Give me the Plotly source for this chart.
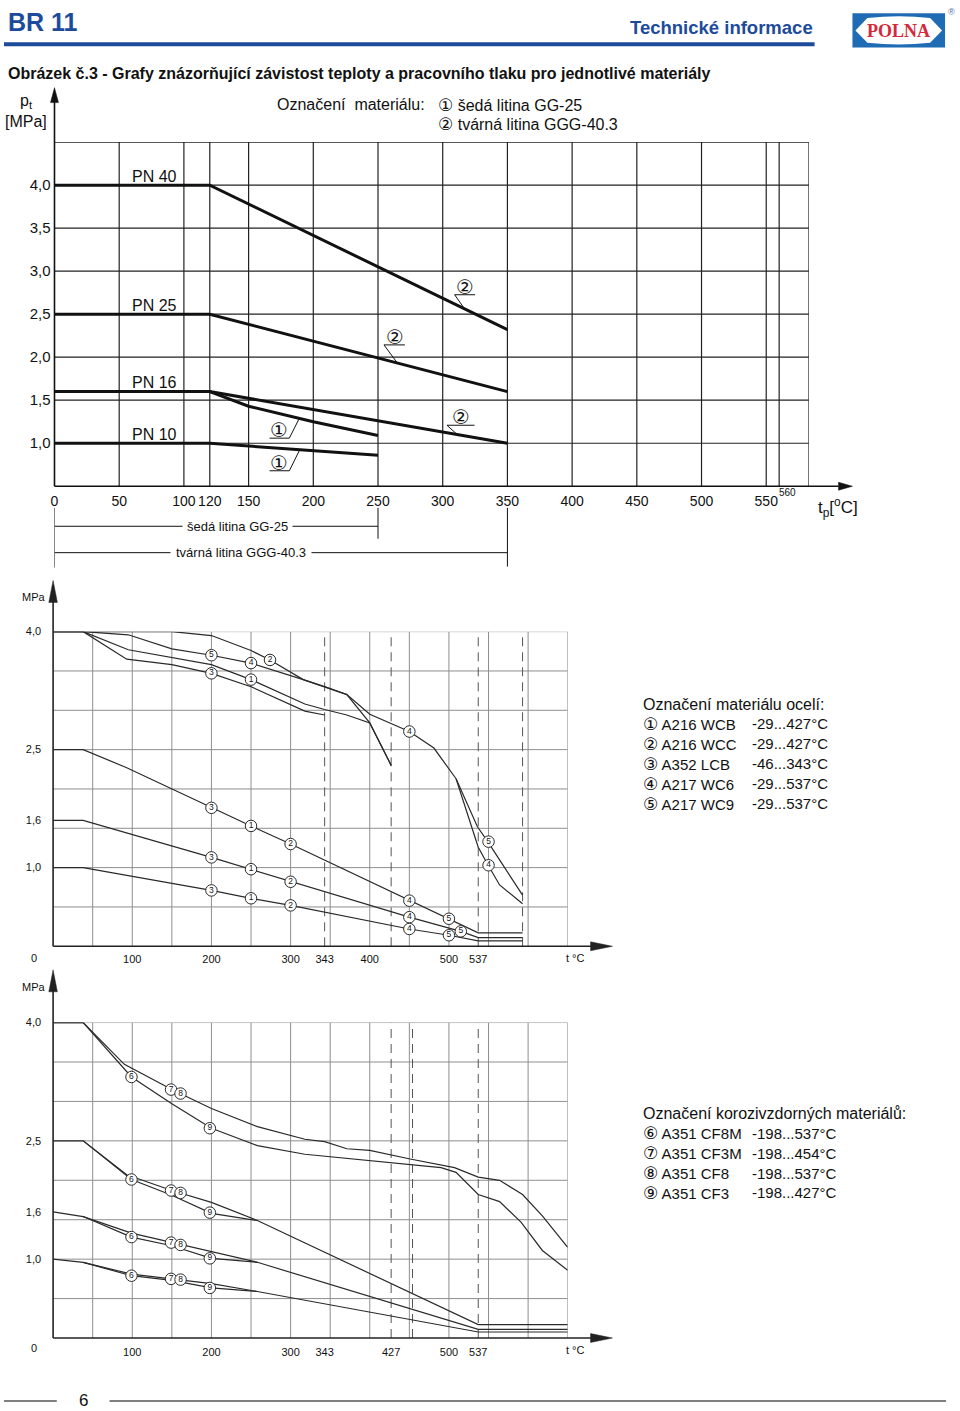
import plotly.graph_objects as go

W, H = 960, 1411
def px(x): return x / W
def py(y): return 1 - y / H

BLUE = "#1d4b9b"
INK = "#111111"
CURVE = "#2a2a2a"
GRID2 = "#8e8e8e"
FONT = "Liberation Sans, Arial, sans-serif"
CIRC = "DejaVu Sans"

def circ(s, size):
    return f'<span style="font-family:{CIRC};font-size:{size}px">{s}</span>'

# ---------------- chart 1 data (cast iron) ----------------
c1_ticks_x = [0, 50, 100, 120, 150, 200, 250, 300, 350, 400, 450, 500, 550]
c1_grid_x = [50, 100, 120, 150, 200, 250, 300, 350, 400, 450, 500, 550, 560, 583]
c1_ticks_y = [1.0, 1.5, 2.0, 2.5, 3.0, 3.5, 4.0]
c1_ticktext_y = ["1,0", "1,5", "2,0", "2,5", "3,0", "3,5", "4,0"]
c1_grid_y = [1.0, 1.5, 2.0, 2.5, 3.0, 3.5, 4.0, 4.5]

pn40_t = [0, 120, 350];        pn40_p = [4.0, 4.0, 2.32]
pn25_t = [0, 120, 350];        pn25_p = [2.5, 2.5, 1.6]
pn16_ggg_t = [0, 120, 350];    pn16_ggg_p = [1.6, 1.6, 1.0]
pn16_gg_t = [120, 150, 200, 250]; pn16_gg_p = [1.6, 1.43, 1.25, 1.09]
pn10_t = [0, 120, 250];        pn10_p = [1.0, 1.0, 0.86]
pn_labels = ["PN 40", "PN 25", "PN 16", "PN 10"]

# ---------------- chart 2 data (steels) ----------------
c2_ticks_x = [100, 200, 300, 343, 400, 500, 537]
c2_ticks_y = [1.0, 1.6, 2.5, 4.0]
c2_ticktext_y = ["1,0", "1,6", "2,5", "4,0"]
grid_x_23 = [50, 100, 150, 200, 250, 300, 350, 400, 450, 500, 550, 600, 650]
grid_y_23 = [0.5, 1.0, 1.5, 2.0, 2.5, 3.0, 3.5, 4.0]
c2_dash_x = [343, 427, 537, 593]

c2_wcc_t = [0, 150, 200, 250, 274, 316, 343, 371, 400, 427]
c2_wcc_p = [4.0, 4.0, 3.95, 3.76, 3.64, 3.39, 3.30, 3.20, 2.84, 2.30]
c2_wcb_t = [0, 38, 95, 200, 250, 318, 343, 371, 400, 427]
c2_wcb_p = [4.0, 4.0, 3.77, 3.58, 3.39, 3.08, 3.01, 2.94, 2.84, 2.30]
c2_lcb_t = [0, 38, 93, 150, 200, 250, 318, 343]
c2_lcb_p = [4.0, 4.0, 3.65, 3.58, 3.47, 3.30, 2.99, 2.94]
c2_wc69_t = [0, 38, 95, 150, 200, 250, 316, 343, 371, 400, 450, 481, 509]
c2_wc69_p = [4.0, 4.0, 3.96, 3.78, 3.70, 3.60, 3.39, 3.30, 3.20, 2.95, 2.73, 2.52, 2.13]
c2_wc9_t = [509, 536, 549, 593];       c2_wc9_p = [2.13, 1.52, 1.33, 0.65]
c2_wc6_t = [509, 537, 549, 564, 593];  c2_wc6_p = [2.13, 1.26, 1.04, 0.78, 0.54]
c2_pn25_t = [0, 38, 93, 150, 200, 250, 300, 450, 500, 537, 593]
c2_pn25_p = [2.5, 2.5, 2.27, 2.0, 1.76, 1.53, 1.30, 0.58, 0.35, 0.17, 0.17]
c2_pn16_t = [0, 38, 200, 250, 300, 450, 515, 537, 593]
c2_pn16_p = [1.6, 1.6, 1.13, 0.98, 0.82, 0.37, 0.19, 0.11, 0.11]
c2_pn10_t = [0, 38, 200, 250, 300, 450, 500, 537, 593]
c2_pn10_p = [1.0, 1.0, 0.71, 0.61, 0.52, 0.22, 0.14, 0.07, 0.07]

c2_mk_t = [200, 250, 274, 200, 250, 450, 550, 550,
           200, 250, 300, 450, 500,
           200, 250, 300, 450, 515,
           200, 250, 300, 450, 500]
c2_mk_p = [3.70, 3.60, 3.64, 3.47, 3.39, 2.73, 1.33, 1.03,
           1.76, 1.53, 1.30, 0.58, 0.35,
           1.13, 0.98, 0.82, 0.37, 0.19,
           0.71, 0.61, 0.52, 0.22, 0.14]
c2_mk_lbl = ["5", "4", "2", "3", "1", "4", "5", "4",
             "3", "1", "2", "4", "5",
             "3", "1", "2", "4", "5",
             "3", "1", "2", "4", "5"]

c2_leg_title = "Označení materiálu ocelí:"
c2_leg_num = ["①", "②", "③", "④", "⑤"]
c2_leg_mat = ["A216 WCB", "A216 WCC", "A352 LCB", "A217 WC6", "A217 WC9"]
c2_leg_rng = ["-29...427°C", "-29...427°C", "-46...343°C", "-29...537°C", "-29...537°C"]

# ---------------- chart 3 data (stainless) ----------------
c3_ticks_x = [100, 200, 300, 343, 427, 500, 537]
c3_dash_x = [427, 454, 537]

c3_a_t = [0, 38, 90, 150, 200, 258, 318, 343, 371, 400, 451, 507, 537, 564, 593, 618, 650]
c3_a_p = [4.0, 4.0, 3.47, 3.15, 2.91, 2.68, 2.52, 2.49, 2.40, 2.38, 2.27, 2.16, 2.04, 2.0, 1.82, 1.55, 1.15]
c3_b_t = [0, 38, 99, 150, 200, 258, 318, 371, 451, 490, 509, 537, 564, 591, 618, 650]
c3_b_p = [4.0, 4.0, 3.31, 2.97, 2.66, 2.44, 2.33, 2.28, 2.20, 2.16, 2.10, 1.82, 1.73, 1.47, 1.11, 0.86]
c3_25a_t = [0, 38, 93, 150, 200, 258, 537, 650]; c3_25a_p = [2.5, 2.5, 2.07, 1.87, 1.72, 1.49, 0.17, 0.17]
c3_25b_t = [38, 99, 150, 200, 258];              c3_25b_p = [2.5, 2.01, 1.81, 1.58, 1.49]
c3_16a_t = [0, 38, 99, 150, 200, 258, 537, 650]; c3_16a_p = [1.6, 1.54, 1.33, 1.21, 1.09, 0.96, 0.11, 0.11]
c3_16b_t = [38, 99, 150, 200, 258];              c3_16b_p = [1.54, 1.28, 1.17, 1.01, 0.96]
c3_10a_t = [0, 38, 99, 150, 200, 258, 537, 650]; c3_10a_p = [1.0, 0.96, 0.81, 0.75, 0.69, 0.59, 0.076, 0.076]
c3_10b_t = [38, 99, 150, 200, 258];              c3_10b_p = [0.96, 0.79, 0.73, 0.635, 0.59]

c3_mk_t = [99, 149, 161, 198, 99, 149, 161, 198, 99, 149, 161, 198, 99, 149, 161, 198]
c3_mk_p = [3.31, 3.15, 3.10, 2.66, 2.01, 1.87, 1.84, 1.59, 1.28, 1.21, 1.18, 1.01, 0.79, 0.75, 0.74, 0.635]
c3_mk_lbl = ["6", "7", "8", "9"] * 4

c3_leg_title = "Označení korozivzdorných materiálů:"
c3_leg_num = ["⑥", "⑦", "⑧", "⑨"]
c3_leg_mat = ["A351 CF8M", "A351 CF3M", "A351 CF8", "A351 CF3"]
c3_leg_rng = ["-198...537°C", "-198...454°C", "-198...537°C", "-198...427°C"]

# ---------------- figure ----------------
fig = go.Figure()

def curve(t, p, axes, width, color):
    fig.add_trace(go.Scatter(x=t, y=p, xaxis=axes[0], yaxis=axes[1], mode="lines",
                             line=dict(color=color, width=width),
                             hoverinfo="skip", showlegend=False))

A1, A2, A3 = ("x", "y"), ("x2", "y2"), ("x3", "y3")

for t, p in [(pn40_t, pn40_p), (pn25_t, pn25_p), (pn16_ggg_t, pn16_ggg_p),
             (pn16_gg_t, pn16_gg_p), (pn10_t, pn10_p)]:
    curve(t, p, A1, 3, INK)

for t, p in [(c2_wcc_t, c2_wcc_p), (c2_wcb_t, c2_wcb_p), (c2_lcb_t, c2_lcb_p),
             (c2_wc69_t, c2_wc69_p), (c2_wc9_t, c2_wc9_p), (c2_wc6_t, c2_wc6_p),
             (c2_pn25_t, c2_pn25_p), (c2_pn16_t, c2_pn16_p), (c2_pn10_t, c2_pn10_p)]:
    curve(t, p, A2, 1.2, CURVE)

for t, p in [(c3_a_t, c3_a_p), (c3_b_t, c3_b_p), (c3_25a_t, c3_25a_p), (c3_25b_t, c3_25b_p),
             (c3_16a_t, c3_16a_p), (c3_16b_t, c3_16b_p), (c3_10a_t, c3_10a_p), (c3_10b_t, c3_10b_p)]:
    curve(t, p, A3, 1.2, CURVE)

def marks(t, p, lbl, axes):
    fig.add_trace(go.Scatter(x=t, y=p, xaxis=axes[0], yaxis=axes[1], mode="markers+text",
                             text=lbl, textposition="middle center",
                             textfont=dict(size=8.5, color=INK, family=FONT),
                             marker=dict(symbol="circle", size=11.5, color="white",
                                         line=dict(color=CURVE, width=1)),
                             cliponaxis=False, hoverinfo="skip", showlegend=False))

marks(c2_mk_t, c2_mk_p, c2_mk_lbl, A2)
marks(c3_mk_t, c3_mk_p, c3_mk_lbl, A3)

shapes = []
annotations = []

def pline(x0, y0, x1, y1, color=INK, width=1.5, dash="solid"):
    shapes.append(dict(type="line", xref="paper", yref="paper",
                       x0=px(x0), y0=py(y0), x1=px(x1), y1=py(y1),
                       line=dict(color=color, width=width, dash=dash)))

def dline(axes, x0, y0, x1, y1, color, width, dash="solid", layer="below"):
    shapes.append(dict(type="line", xref=axes[0], yref=axes[1],
                       x0=x0, y0=y0, x1=x1, y1=y1, layer=layer,
                       line=dict(color=color, width=width, dash=dash)))

def tri(pts, color=INK):
    d = "M " + " L ".join(f"{px(a):.5f},{py(b):.5f}" for a, b in pts) + " Z"
    shapes.append(dict(type="path", xref="paper", yref="paper", path=d,
                       fillcolor=color, line=dict(color=color, width=0.5)))

def txt(x, y, s, size, xanchor="left", color=INK, family=FONT, **kw):
    annotations.append(dict(xref="paper", yref="paper", x=px(x), y=py(y), text=s,
                            showarrow=False, xanchor=xanchor, yanchor="middle",
                            font=dict(size=size, color=color, family=family), **kw))

# ---------- header ----------
txt(2, 16, "<b>BR 11</b>", 25, color=BLUE)
txt(814, 22, "<b>Technické informace</b>", 18.5, xanchor="right", color=BLUE)
pline(0, 38.5, 814, 38.5, color=BLUE, width=4)
shapes.append(dict(type="rect", xref="paper", yref="paper", x0=px(852), x1=px(945),
                   y0=py(41.7), y1=py(7.3), fillcolor="#1f6cb4", line=dict(width=0)))
lens = (f"M {px(855):.5f},{py(24.5):.5f} L {px(867):.5f},{py(12):.5f} "
        f"Q {px(898.5):.5f},{py(8.5):.5f} {px(930):.5f},{py(12):.5f} "
        f"L {px(942):.5f},{py(24.5):.5f} L {px(930):.5f},{py(37):.5f} "
        f"Q {px(898.5):.5f},{py(40.5):.5f} {px(867):.5f},{py(37):.5f} Z")
shapes.append(dict(type="path", xref="paper", yref="paper", path=lens,
                   fillcolor="white", line=dict(width=0)))
txt(898.5, 25, "<b>POLNA</b>", 18, xanchor="center", color="#d42a3b",
    family="Liberation Serif, Times New Roman, serif")
txt(951, 6, "®", 9, xanchor="center", color="#4a6fa8")
txt(2, 68, "<b>Obrázek č.3 - Grafy znázorňující závistost teploty a pracovního tlaku pro jednotlivé materiály</b>", 16)

# ---------- chart 1 ----------
for g in c1_grid_x:
    dline(A1, g, 0.5, g, 4.5, "#222222", 1.2)
for g in c1_grid_y:
    dline(A1, 0, g, 583, g, "#222222", 1.2)
pline(50.7, 482.3, 50.7, 96, width=1.6)
tri([(50.7, 82), (46.7, 97), (54.7, 97)])
pline(50.7, 482.3, 838, 482.3, width=1.6)
tri([(852, 482.3), (838, 478.3), (838, 486.3)])

txt(14, 96, "p<sub>t</sub>", 16)
txt(22, 116, "[MPa]", 16, xanchor="center")
txt(272, 99, "Označení  materiálu:", 16)
txt(434, 99, circ("①", 17) + " šedá litina GG-25", 16)
txt(434, 119, circ("②", 17) + " tvárná litina GGG-40.3", 16)
for lbl, yy in zip(pn_labels, [171, 301, 378, 430]):
    txt(127, yy, lbl, 16)
txt(787, 489, "560", 10, xanchor="center")
txt(815, 504, "t<sub>p</sub>[<sup>o</sup>C]", 17)

# leader labels on chart 1 (label pos, underline, slant) in data units
leaders = [
    ("②", 317.0, 2.82, 309.2, 325.0, 2.726, (309.2, 2.726, 317.4, 2.552)),
    ("②", 262.8, 2.236, 254.6, 270.8, 2.143, (254.6, 2.143, 264.8, 1.935)),
    ("②", 314.3, 1.306, 303.3, 324.6, 1.209, (303.3, 1.209, 312.3, 1.086)),
    ("①", 173.8, 1.155, 166.2, 181.5, 1.059, (181.5, 1.059, 189.2, 1.290)),
    ("①", 173.8, 0.77, 166.2, 181.5, 0.680, (181.5, 0.680, 189.2, 0.915)),
]
for s, lt, lp, u0, u1, up, sl in leaders:
    annotations.append(dict(xref="x", yref="y", x=lt, y=lp, text=s, showarrow=False,
                            xanchor="center", yanchor="middle",
                            font=dict(size=20, color=INK, family=CIRC)))
    dline(A1, u0, up, u1, up, INK, 1, layer="above")
    dline(A1, sl[0], sl[1], sl[2], sl[3], INK, 1, layer="above")

# brackets below chart 1
for tv, y1b in [(0, 564), (250, 535), (350, 563)]:
    shapes.append(dict(type="line", xref="x", yref="paper", x0=tv, x1=tv,
                       y0=py(504), y1=py(y1b), line=dict(color=INK, width=1)))
shapes.append(dict(type="line", xref="x", yref="paper", x0=0, x1=250,
                   y0=py(522.5), y1=py(522.5), line=dict(color=INK, width=1)))
shapes.append(dict(type="line", xref="x", yref="paper", x0=0, x1=350,
                   y0=py(549), y1=py(549), line=dict(color=INK, width=1)))
txt(234, 522.5, "šedá litina GG-25", 13, xanchor="center", bgcolor="white", borderpad=4)
txt(238, 549, "tvárná litina GGG-40.3", 13, xanchor="center", bgcolor="white", borderpad=5)

# ---------- chart 2 & 3 grids / axes ----------
def small_chart(axes, dash_x, yax_px, arrow_top):
    for g in grid_x_23:
        dline(axes, g, 0, g, 4.0, GRID2, 1)
    for g in grid_y_23:
        dline(axes, 0, g, 650, g, GRID2, 1)
    for g in dash_x:
        dline(axes, g, 0, g, 4.0, "#555555", 1, dash="9px,6px")
    pline(49.3, yax_px, 49.3, arrow_top + 20, color="#222222", width=1.6)
    tri([(49.3, arrow_top), (45, arrow_top + 22), (53.6, arrow_top + 22)], color="#222222")
    pline(49.3, yax_px, 590, yax_px, color="#222222", width=1.6)
    tri([(611, yax_px), (589, yax_px - 4.5), (589, yax_px + 4.5)], color="#222222")

small_chart(A2, c2_dash_x, 944.3, 577)
small_chart(A3, c3_dash_x, 1337.7, 968)

txt(30, 594, "MPa", 11, xanchor="center")
txt(30, 956, "0", 11, xanchor="center")
txt(574, 956, "t °C", 11, xanchor="center")
txt(30, 985, "MPa", 11, xanchor="center")
txt(30, 1348, "0", 11, xanchor="center")
txt(574, 1350, "t °C", 11, xanchor="center")

txt(640, 701, c2_leg_title, 16)
for i, (n, m, r) in enumerate(zip(c2_leg_num, c2_leg_mat, c2_leg_rng)):
    txt(640, 721 + 20 * i, circ(n, 17) + " " + m, 15)
    txt(749, 721 + 20 * i, r, 15)
txt(640, 1112, c3_leg_title, 16)
for i, (n, m, r) in enumerate(zip(c3_leg_num, c3_leg_mat, c3_leg_rng)):
    txt(640, 1132 + 20 * i, circ(n, 17) + " " + m, 15)
    txt(749, 1132 + 20 * i, r, 15)

# ---------- footer ----------
pline(0, 1401, 53, 1401, color="#555555", width=1.5)
pline(106, 1401, 946, 1401, color="#555555", width=1.5)
txt(80, 1400, "6", 17, xanchor="center")

# ---------- axes ----------
def axis_common():
    return dict(showgrid=False, zeroline=False, showline=False, ticks="",
                fixedrange=True, tickangle=0)

layout_axes = dict(
    xaxis=dict(domain=[px(50.7), px(808.3)], range=[0, 583], anchor="y",
               tickmode="array", tickvals=c1_ticks_x, ticktext=[str(v) for v in c1_ticks_x],
               tickfont=dict(size=14, color=INK), ticklabelstandoff=5, **axis_common()),
    yaxis=dict(domain=[py(482.3), py(136.7)], range=[0.5, 4.5], anchor="x",
               tickmode="array", tickvals=c1_ticks_y, ticktext=c1_ticktext_y,
               tickfont=dict(size=15, color=INK), ticklabelstandoff=3, **axis_common()),
    xaxis2=dict(domain=[px(49.3), px(566.05)], range=[0, 650], anchor="y2",
                tickmode="array", tickvals=c2_ticks_x, ticktext=[str(v) for v in c2_ticks_x],
                tickfont=dict(size=11, color=INK), ticklabelstandoff=5, **axis_common()),
    yaxis2=dict(domain=[py(944.3), py(628.3)], range=[0, 4.0], anchor="x2",
                tickmode="array", tickvals=c2_ticks_y, ticktext=c2_ticktext_y,
                tickfont=dict(size=11, color=INK), ticklabelstandoff=11, **axis_common()),
    xaxis3=dict(domain=[px(49.3), px(566.05)], range=[0, 650], anchor="y3",
                tickmode="array", tickvals=c3_ticks_x, ticktext=[str(v) for v in c3_ticks_x],
                tickfont=dict(size=11, color=INK), ticklabelstandoff=6, **axis_common()),
    yaxis3=dict(domain=[py(1337.7), py(1020.9)], range=[0, 4.0], anchor="x3",
                tickmode="array", tickvals=c2_ticks_y, ticktext=c2_ticktext_y,
                tickfont=dict(size=11, color=INK), ticklabelstandoff=11, **axis_common()),
)

fig.update_layout(width=W, height=H, autosize=False,
                  margin=dict(l=0, r=0, t=0, b=0),
                  paper_bgcolor="white", plot_bgcolor="white",
                  font=dict(family=FONT, color=INK),
                  showlegend=False, shapes=shapes, annotations=annotations,
                  **layout_axes)

fig.write_html(
    "out.html", config={"displayModeBar": False},
    post_script=(
        "document.documentElement.style.margin='0';"
        "document.documentElement.style.overflow='hidden';"
        "document.body.style.margin='0';document.body.style.padding='0';"
        "document.body.style.overflow='hidden';"
        "var gd=document.getElementById('{plot_id}');"
        "gd.style.position='absolute';gd.style.left='0px';gd.style.top='0px';"
    ),
)
